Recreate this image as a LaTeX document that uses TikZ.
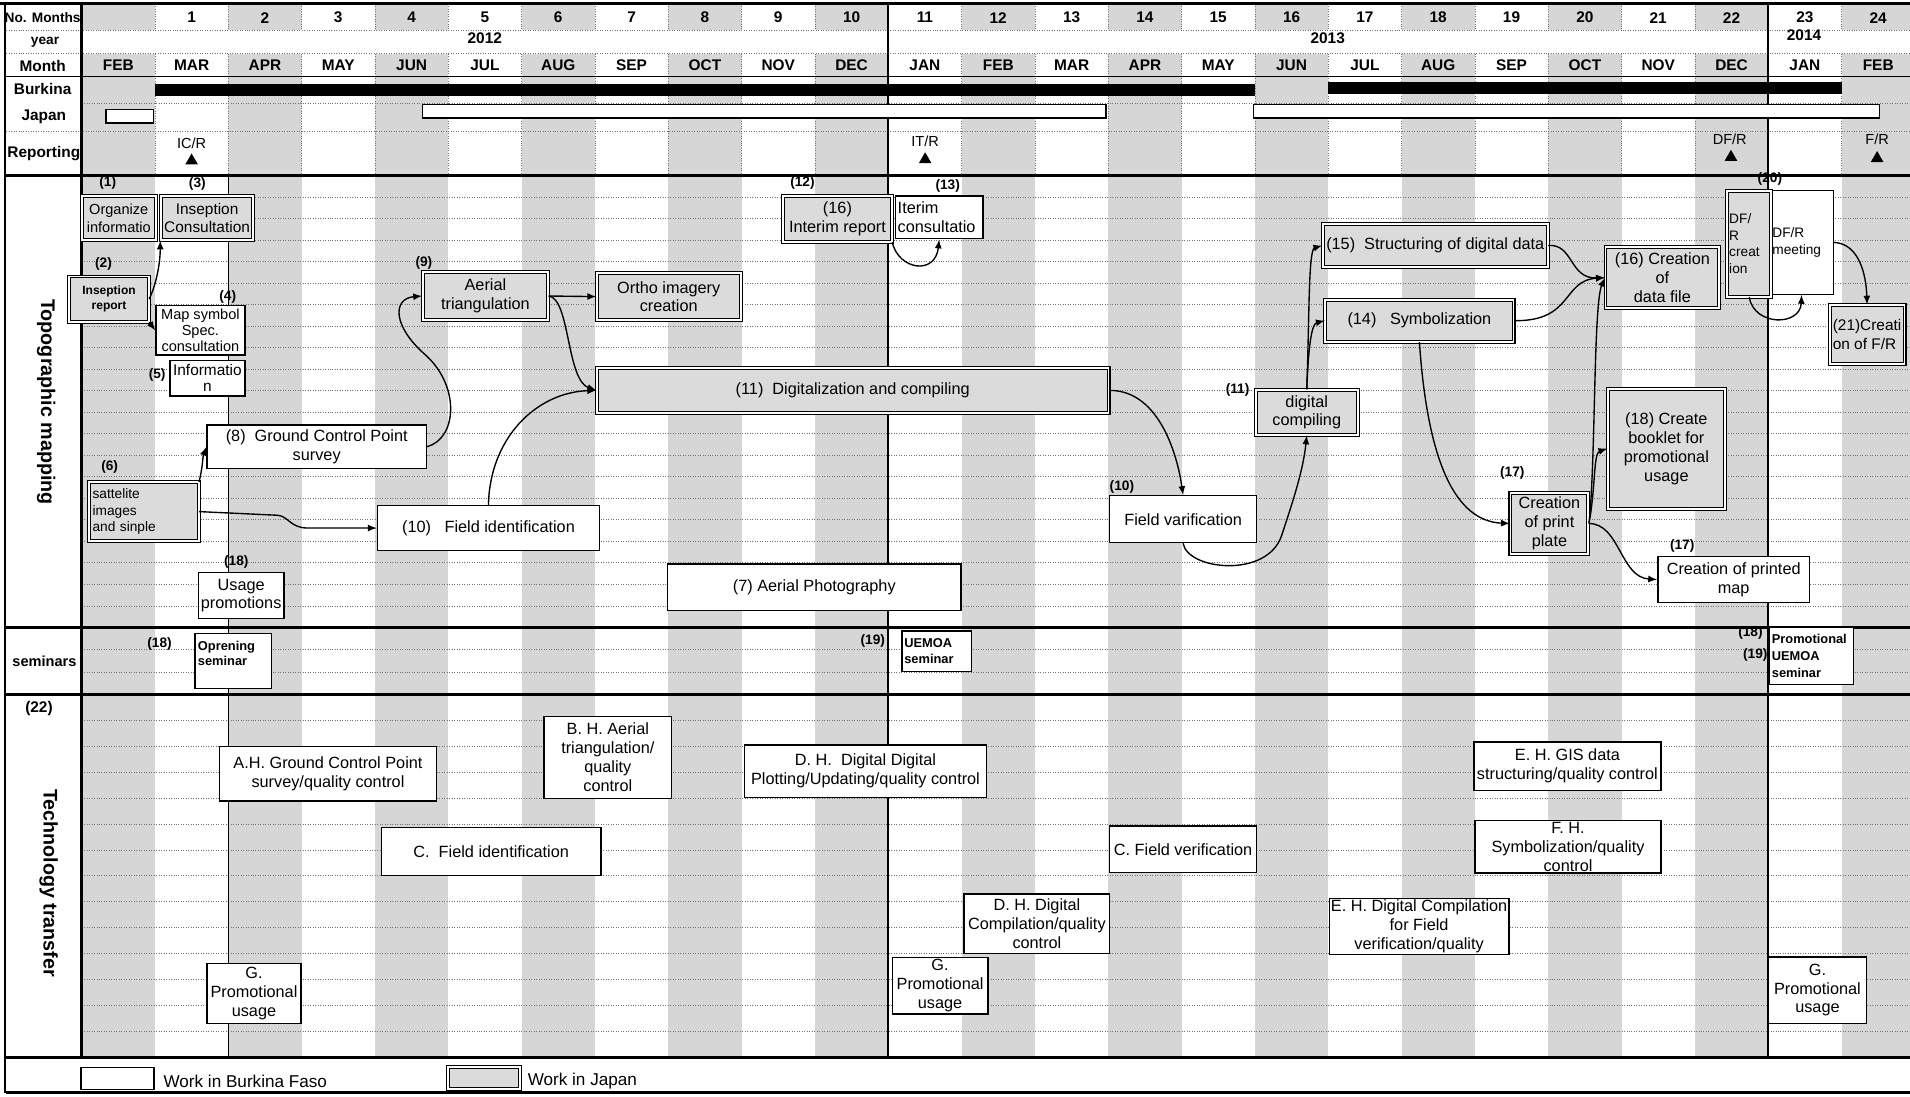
\documentclass[tikz,border=0pt]{standalone}
\usepackage{fontspec}
\setmainfont{Liberation Sans}
\usetikzlibrary{arrows, shapes, positioning}

\begin{document}
\begin{tikzpicture}[x=0.025cm, y=-0.025cm,
    jpbox/.style={draw, line width=0.6pt, double=white, double distance=1.1pt,
        fill=black!14, align=center, inner sep=1pt, font=\fontsize{9.5}{11}\selectfont},
    bfbox/.style={draw, line width=0.8pt, fill=white, align=center, inner sep=1pt,
        font=\fontsize{9.5}{11}\selectfont},
    tag/.style={inner sep=0pt, font=\fontsize{8}{9}\selectfont\bfseries},
    hdr/.style={inner sep=0pt, font=\fontsize{9}{10}\selectfont\bfseries},
    sect/.style={inner sep=0pt, rotate=-90, font=\fontsize{11.5}{13}\selectfont\bfseries},
    deliv/.style={regular polygon, regular polygon sides=3, fill=black, inner sep=0pt, minimum size=0.3cm},
    arr/.style={-latex, line width=0.8pt},
    thickrule/.style={line width=1.4pt},
    subrule/.style={densely dotted, line width=0.45pt, black!55},
    halftone/.style={fill=black!16}]

    \useasboundingbox (0,0) rectangle (1568,900);
    \fill[white] (0,0) rectangle (1568,900);

    % month columns
    \foreach \i in {0,2,...,24} {
        \fill[halftone] ({67+60.2*\i},3) rectangle ({67+60.2*(\i+1)},25);
        \fill[halftone] ({67+60.2*\i},44) rectangle ({67+60.2*(\i+1)},868);
    }
    \foreach \i in {1,...,24} {
        \draw[subrule] ({67+60.2*\i},3) -- ({67+60.2*\i},25);
        \draw[subrule] ({67+60.2*\i},44) -- ({67+60.2*\i},144);
    }

    % rows
    \draw[subrule] (5,25) -- (1568,25);
    \draw[subrule] (5,44) -- (1568,44);
    \draw[line width=0.8pt] (5,63) -- (1568,63);
    \draw[subrule] (67,85) -- (1568,85);
    \draw[subrule] (5,108) -- (1568,108);
    \foreach \k in {1,...,20} \draw[subrule] (67,{144+17.67*\k}) -- (1568,{144+17.67*\k});
    \foreach \k in {1,2} \draw[subrule] (67,{515+18.33*\k}) -- (1568,{515+18.33*\k});
    \foreach \k in {1,...,13} \draw[subrule] (67,{570+21.29*\k}) -- (1568,{570+21.29*\k});
    \draw[line width=0.6pt] (187.4,144) -- (187.4,868);
    \draw[thickrule] (0,3) -- (1568,3);
    \draw[thickrule] (5,144) -- (1568,144);
    \draw[thickrule] (5,515) -- (1568,515);
    \draw[thickrule] (5,570) -- (1568,570);
    \draw[thickrule] (5,868) -- (1568,868);
    \draw[thickrule] (5,897) -- (1568,897);
    \draw[thickrule] (4,3) -- (4,897);
    \draw[thickrule] (67,3) -- (67,868);
    \draw[thickrule] (729.2,3) -- (729.2,868);
    \draw[thickrule] (1451.6,3) -- (1451.6,868);

    % header
    \node[hdr, font=\fontsize{8}{9}\selectfont\bfseries] (lnum) at (35,14.5) {No. Months};
    \node[hdr, font=\fontsize{8}{9}\selectfont\bfseries] (lyear) at (37,35) {year};
    \node[hdr] (lmonth) at (35,54) {Month};
    \node[hdr] (lburk) at (35,73) {Burkina};
    \node[hdr] (ljap) at (36,96) {Japan};
    \node[hdr] (lrep) at (36,126) {Reporting};
    \foreach \i in {1,...,24} \node[hdr] (n\i) at ({67+60.2*(\i+0.5)},14.5) {\i};
    \foreach \m [count=\i from 0] in {FEB,MAR,APR,MAY,JUN,JUL,AUG,SEP,OCT,NOV,DEC,JAN,FEB,MAR,APR,MAY,JUN,JUL,AUG,SEP,OCT,NOV,DEC,JAN,FEB}
        \node[hdr] (m\i) at ({67+60.2*(\i+0.5)},53.5) {\m};
    \node[hdr] (y12) at (398,31) {2012};
    \node[hdr] (y13) at (1090,31) {2013};
    \node[hdr] (y14) at (1481,29) {2014};

    \fill (127.2,69) rectangle (1030,79);
    \fill (1090,67) rectangle (1511.8,77);
    \draw[fill=white, line width=0.8pt] (87,90) rectangle (126,101);
    \draw[fill=white, line width=0.8pt] (347,86) rectangle (908,97);
    \draw[fill=white, line width=0.8pt] (1029,86) rectangle (1543,97);

    \node[inner sep=0pt, font=\fontsize{8.5}{10}\selectfont] (icr) at (157.3,118) {IC/R};
    \node[deliv] (icrt) at (157.3,132) {};
    \node[inner sep=0pt, font=\fontsize{8.5}{10}\selectfont] (itr) at (759.5,116) {IT/R};
    \node[deliv] (itrt) at (759.5,131) {};
    \node[inner sep=0pt, font=\fontsize{8.5}{10}\selectfont] (dfr) at (1420,114) {DF/R};
    \node[deliv] (dfrt) at (1421,129) {};
    \node[inner sep=0pt, font=\fontsize{8.5}{10}\selectfont] (ffr) at (1541,114) {F/R};
    \node[deliv] (ffrt) at (1541,130) {};

    % section labels
    \node[sect] (stopo) at (38,330) {Topographic mapping};
    \node[hdr, font=\fontsize{8.5}{10}\selectfont\bfseries] (ssem) at (36.5,542.5) {seminars};
    \node[hdr] (t22) at (32,581.5) {(22)};
    \node[sect] (stech) at (40,725) {Technology transfer};

    % topographic mapping
    \node[tag] (t1) at (88.5,150.5) {(1)};
    \node[tag] (t3) at (162,151) {(3)};
    \node[jpbox, minimum width=1.525cm, minimum height=0.9cm, font=\fontsize{8.5}{10.5}\selectfont] (org) at (97.5,179) {Organize\\informatio};
    \node[jpbox, minimum width=1.9cm, minimum height=0.9cm, font=\fontsize{9}{10.5}\selectfont] (incons) at (170,179) {Inseption\\Consultation};
    \node[tag] (t2) at (85,217) {(2)};
    \node[jpbox, minimum width=1.625cm, minimum height=0.925cm, font=\fontsize{7}{8.5}\selectfont\bfseries] (inrep) at (89.5,245.5) {Inseption\\report};
    \node[tag] (t4) at (187,243.5) {(4)};
    \node[bfbox, minimum width=1.825cm, minimum height=1.01cm, font=\fontsize{8.5}{9.5}\selectfont] (mapsym) at (164.5,271.25) {Map symbol\\Spec.\\consultation};
    \node[tag] (t5) at (129,308) {(5)};
    \node[bfbox, minimum width=1.54cm, minimum height=0.725cm, font=\fontsize{9}{9.5}\selectfont] (info) at (170.25,310.5) {Informatio\\n};
    \node[bfbox, minimum width=4.5cm, minimum height=0.89cm] (gcp) at (260,366.75) {(8)~~Ground Control Point\\survey};
    \node[tag] (t6) at (90,383) {(6)};
    \node[jpbox, minimum width=2.25cm, minimum height=1.2cm, align=left, text width=2.1cm, font=\fontsize{8}{9.7}\selectfont] (sat) at (118,420) {sattelite\\images\\and sinple};
    \node[tag] (t9) at (348,216) {(9)};
    \node[jpbox, minimum width=2.575cm, minimum height=1cm] (atri) at (398.5,243) {Aerial\\triangulation};
    \node[jpbox, minimum width=2.95cm, minimum height=0.975cm] (ortho) at (549,243.5) {Ortho imagery\\creation};
    \node[jpbox, minimum width=10.5cm, minimum height=0.925cm] (digi) at (700,320.5) {(11)~~Digitalization and compiling};
    \node[bfbox, minimum width=4.55cm, minimum height=0.925cm] (fid) at (401,433.5) {(10)~~~Field identification};
    \node[tag] (t18a) at (194,461) {(18)};
    \node[bfbox, minimum width=1.75cm, minimum height=0.95cm] (usage) at (198,489) {Usage\\promotions};
    \node[bfbox, minimum width=6.025cm, minimum height=0.95cm] (aphoto) at (668.5,482) {(7)~Aerial Photography};
    \node[tag] (t12) at (658.8,150) {(12)};
    \node[jpbox, minimum width=2.225cm, minimum height=0.9375cm] (irep) at (687.5,179.75) {(16)\\Interim report};
    \node[tag] (t13) at (778,153) {(13)};
    \node[bfbox, minimum width=1.8cm, minimum height=0.875cm, align=left, text width=1.7cm] (icons) at (771,178.5) {Iterim\\consultatio};
    \node[tag] (t10) at (921,399.5) {(10)};
    \node[bfbox, minimum width=3.0125cm, minimum height=0.9625cm] (fver) at (971.25,426.25) {Field varification};
    \node[tag] (t11) at (1016,320) {(11)};
    \node[jpbox, minimum width=2.0875cm, minimum height=0.925cm] (dcomp) at (1072.75,338.5) {digital\\compiling};
    \node[jpbox, minimum width=4.6125cm, minimum height=0.875cm] (struct) at (1178.25,201.5) {(15)~~Structuring of digital data};
    \node[jpbox, minimum width=3.8625cm, minimum height=0.8625cm] (symb) at (1165.25,263.25) {(14)~~~Symbolization};
    \node[jpbox, minimum width=2.3375cm, minimum height=1.25cm] (dfile) at (1364.75,228) {(16) Creation\\of\\data file};
    \node[tag] (t17a) at (1241.5,388.5) {(17)};
    \node[jpbox, minimum width=1.6cm, minimum height=1.2375cm] (pplate) at (1272,429.75) {Creation\\of print\\plate};
    \node[jpbox, minimum width=2.4cm, minimum height=2.4625cm] (booklet) at (1368,368.25) {(18) Create\\booklet for\\promotional\\usage};
    \node[tag] (t20) at (1453,147) {(20)};
    \node[bfbox, minimum width=1.3cm, minimum height=2.125cm, align=left, text width=1.2cm, font=\fontsize{8}{9.7}\selectfont] (dfrm) at (1479,199) {DF/R\\meeting};
    \node[jpbox, minimum width=0.9cm, minimum height=2.175cm, align=left, text width=0.82cm, font=\fontsize{8}{9.7}\selectfont] (dfrc) at (1436,200) {DF/\\R\\creat\\ion};
    \node[jpbox, minimum width=1.5375cm, minimum height=1.2cm, align=left, font=\fontsize{9}{11}\selectfont] (fr) at (1532.75,274.5) {(21)Creati\\on of F/R};
    \node[tag] (t17b) at (1381,448.5) {(17)};
    \node[bfbox, minimum width=3.1125cm, minimum height=0.9375cm] (pmap) at (1423.25,475.75) {Creation of printed\\map};

    \draw[arr] (inrep.east) .. controls +(6,-12) and +(0,18) .. (incons.south west);
    \draw[arr] (inrep.south east) -- (mapsym.west);
    \draw[arr] (sat.north east) .. controls +(3,-12) and +(-3,8) .. (gcp.west);
    \draw[arr] (gcp.east) .. controls (375,360) and (378,318) .. (350,292) .. controls (322,268) and (322,245) .. (atri.west);
    \draw[arr] (atri.east) -- (ortho.west);
    \draw[arr] (atri.east) .. controls (468,245) and (465,312) .. (digi.west);
    \draw[arr] (fid.north) .. controls (402,360) and (440,322) .. (digi.west);
    \draw[arr] (sat.east) -- (228,423) .. controls (237,424) and (238,433) .. (252,433.5) -- (fid.west);
    \draw[arr] (irep.south east) .. controls (738,222) and (768,226) .. (icons.south);
    \draw[arr] (digi.east) .. controls (950,320) and (966,370) .. (fver.north);
    \draw[arr] (fver.south) .. controls (975,468) and (1040,475) .. (1052,440) .. controls (1062,410) and (1070,385) .. (dcomp.south);
    \draw[arr] (dcomp.north) .. controls (1075,260) and (1074,205) .. (struct.west);
    \draw[arr] (dcomp.north) .. controls (1074,290) and (1076,266) .. (symb.west);
    \draw[arr] (struct.east) .. controls (1292,200) and (1288,229) .. (dfile.west);
    \draw[arr] (symb.east) .. controls (1292,264) and (1282,230) .. (dfile.west);
    \draw[arr] (symb.south) .. controls (1172,380) and (1195,428) .. (pplate.west);
    \draw[arr] (pplate.east) .. controls (1310,380) and (1308,250) .. (dfile.west);
    \draw[arr] (pplate.east) .. controls (1310,400) and (1308,372) .. (booklet.west);
    \draw[arr] (pplate.east) .. controls (1330,430) and (1330,474) .. (pmap.west);
    \draw[arr] (dfrc.south) .. controls (1440,268) and (1478,268) .. (dfrm.south);
    \draw[arr] (dfrm.east) .. controls (1526,200) and (1532,225) .. (fr.north);

    % seminars
    \node[tag] (t18b) at (131,529) {(18)};
    \node[bfbox, minimum width=1.575cm, minimum height=1.125cm, align=left, text width=1.45cm, font=\fontsize{7.5}{9}\selectfont\bfseries] (opsem) at (191.5,542.5) {Oprening\\seminar\\\mbox{}};
    \node[tag] (t19a) at (716.5,526) {(19)};
    \node[bfbox, minimum width=1.425cm, minimum height=0.825cm, align=left, text width=1.33cm, font=\fontsize{7.5}{9}\selectfont\bfseries] (usem) at (769,534.5) {UEMOA\\seminar};
    \node[tag] (t18c) at (1437,520) {(18)};
    \node[tag] (t19b) at (1441,538) {(19)};
    \node[bfbox, minimum width=1.725cm, minimum height=1.175cm, align=left, text width=1.62cm, font=\fontsize{7.5}{10}\selectfont\bfseries] (psem) at (1487,538.5) {Promotional\\UEMOA\\seminar};

    % technology transfer
    \node[bfbox, minimum width=4.4625cm, minimum height=1.1125cm] (ah) at (269.25,635.25) {A.H. Ground Control Point\\survey/quality control};
    \node[bfbox, minimum width=2.625cm, minimum height=1.6875cm] (bh) at (499,621.75) {B. H. Aerial\\triangulation/\\quality\\control};
    \node[bfbox, minimum width=4.5125cm, minimum height=0.975cm] (cfi) at (403.25,699) {C.~~Field identification};
    \node[bfbox, minimum width=1.925cm, minimum height=1.225cm] (g1) at (208.5,815.5) {G.\\Promotional\\usage};
    \node[bfbox, minimum width=4.975cm, minimum height=1.075cm] (dh1) at (710.5,633) {D. H.~~Digital Digital\\Plotting/Updating/quality control};
    \node[bfbox, minimum width=3.0125cm, minimum height=0.9625cm] (cfv) at (971.25,697.25) {C. Field verification};
    \node[bfbox, minimum width=2.9875cm, minimum height=1.2125cm] (dh2) at (851.25,758.25) {D. H. Digital\\Compilation/quality\\control};
    \node[bfbox, minimum width=1.9625cm, minimum height=1.1625cm] (g2) at (771.75,809.25) {G.\\Promotional\\usage};
    \node[bfbox, minimum width=3.8375cm, minimum height=1cm] (eh1) at (1286.75,629) {E. H. GIS data\\structuring/quality control};
    \node[bfbox, minimum width=3.8125cm, minimum height=1.0375cm] (fh) at (1287.25,695.25) {F. H.\\Symbolization/quality\\control};
    \node[bfbox, minimum width=3.625cm, minimum height=1.1cm] (eh2) at (1165,760.5) {E. H. Digital Compilation\\for Field\\verification/quality};
    \node[bfbox, minimum width=2.025cm, minimum height=1.3625cm] (g3) at (1492,812.75) {G.\\Promotional\\usage};

    % legend
    \node[bfbox, minimum width=1.5cm, minimum height=0.45cm, inner sep=0pt] (lgbf) at (96.5,885.3) {};
    \node[anchor=west, inner sep=0pt, font=\fontsize{10}{12}\selectfont] (lgbft) at (134,887.5) {Work in Burkina Faso};
    \node[jpbox, minimum width=1.48cm, minimum height=0.45cm, inner sep=0pt] (lgjp) at (397.3,885) {};
    \node[anchor=west, inner sep=0pt, font=\fontsize{10}{12}\selectfont] (lgjpt) at (433,887.5) {Work in Japan};
\end{tikzpicture}
\end{document}
